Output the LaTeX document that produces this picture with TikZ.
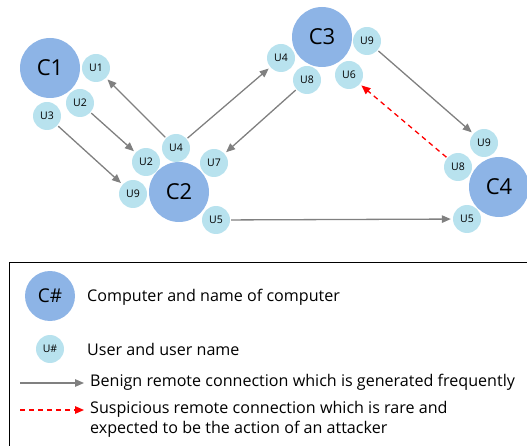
\documentclass[tikz,border=0pt]{standalone}
\usepackage{fontspec}
\setmainfont{Open Sans}
\usetikzlibrary{arrows.meta}

\definecolor{compblue}{RGB}{141,180,230}
\definecolor{userblue}{RGB}{184,226,238}
\definecolor{linkgray}{RGB}{128,128,128}

\tikzset{
  comp/.style={circle,fill=compblue,minimum size=60pt,inner sep=0pt,font=\fontsize{22}{22}\selectfont},
  user/.style={circle,fill=userblue,minimum size=28pt,inner sep=0pt,font=\fontsize{10.5}{10.5}\selectfont},
  benign/.style={-{Triangle[length=9pt,width=7.5pt]},linkgray,line width=1.3pt,shorten >=2pt,shorten <=1pt},
  attack/.style={-{Triangle[length=9pt,width=7.5pt]},red,line width=1.3pt,dash pattern=on 5pt off 4pt,shorten >=2pt,shorten <=1pt},
  legtext/.style={anchor=west,inner sep=2pt,font=\fontsize{16.1}{20}\selectfont,align=left}
}

\begin{document}
\begin{tikzpicture}[x=1pt,y=-1pt]
  \useasboundingbox (0,0) rectangle (527,446);

  % computers
  \node[comp] (c1) at (50,68) {C1};
  \node[comp] (c2) at (179,192) {C2};
  \node[comp] (c3) at (322,37) {C3};
  \node[comp] (c4) at (499,187) {C4};

  % users around C1
  \node[user] (c1u1) at (96,68) {U1};
  \node[user] (c1u2) at (80,103) {U2};
  \node[user] (c1u3) at (47,116) {U3};
  % users around C2
  \node[user] (c2u4) at (176,148) {U4};
  \node[user] (c2u2) at (146,162) {U2};
  \node[user] (c2u7) at (214,163) {U7};
  \node[user] (c2u9) at (133,194) {U9};
  \node[user] (c2u5) at (216,220) {U5};
  % users around C3
  \node[user] (c3u9) at (367,41) {U9};
  \node[user] (c3u4) at (281,58) {U4};
  \node[user] (c3u8) at (307,80) {U8};
  \node[user] (c3u6) at (349,75) {U6};
  % users around C4
  \node[user] (c4u9) at (484,143) {U9};
  \node[user] (c4u8) at (458,167) {U8};
  \node[user] (c4u5) at (467,219) {U5};

  % remote connections
  \draw[benign] (c2u4) -- (c1u1);
  \draw[benign] (c1u2) -- (c2u2);
  \draw[benign] (c1u3) -- (c2u9);
  \draw[benign] (c2u4) -- (c3u4);
  \draw[benign] (c3u8) -- (c2u7);
  \draw[benign] (c3u9) -- (c4u9);
  \draw[benign] (c2u5) -- (c4u5);
  \draw[attack] (c4u8) -- (c3u6);

  % legend
  \draw[line width=0.8pt] (9.5,446) -- (9.5,262.5) -- (527,262.5);
  \node[comp,minimum size=50pt,font=\fontsize{19}{19}\selectfont] (legc) at (50,296) {C\#};
  \node[legtext] (legctext) at (85,297) {Computer and name of computer};
  \node[user] (legu) at (50,349) {U\#};
  \node[legtext] (legutext) at (85,349) {User and user name};
  \coordinate (benA) at (20,383);
  \coordinate (benB) at (84,383);
  \draw[benign,shorten >=0pt,shorten <=0pt] (benA) -- (benB);
  \node[legtext] (bentext) at (88,382) {Benign remote connection which is generated frequently};
  \coordinate (susA) at (20,410);
  \coordinate (susB) at (84,410);
  \draw[attack,shorten >=0pt,shorten <=0pt] (susA) -- (susB);
  \node[legtext,anchor=north west] (sustext) at (88,399) {Suspicious remote connection which is rare and\\expected to be the action of an attacker};
\end{tikzpicture}
\end{document}
